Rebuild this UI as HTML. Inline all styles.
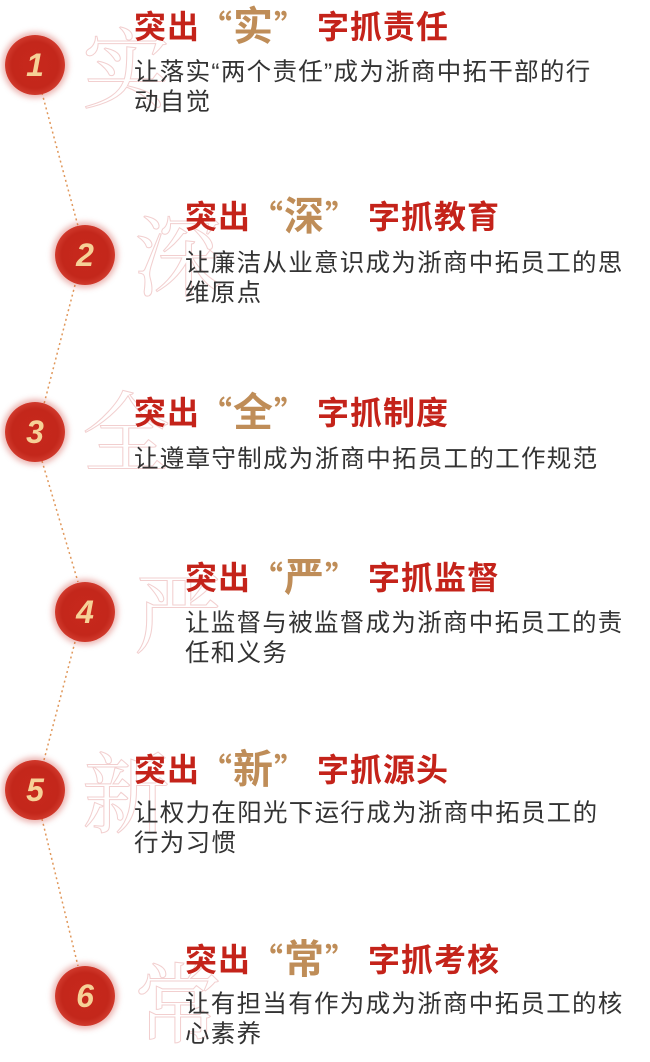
<!DOCTYPE html>
<html><head><meta charset="utf-8"><style>
body{margin:0;width:650px;height:1054px;background:#fff;position:relative;overflow:hidden;font-family:"Liberation Sans","Noto Sans CJK SC",sans-serif;}
.c{position:absolute;width:60px;height:60px;border-radius:50%;background:radial-gradient(circle,#c8281c 0,#c3271b 55%,#d0392c 70%,rgba(220,80,70,0) 100%);box-shadow:0 0 6px 3px rgba(200,50,40,.35);color:#f6d197;font:italic bold 32px "Liberation Sans",sans-serif;text-align:center;line-height:60px;}
.g{position:absolute;font-family:"Noto Serif CJK SC","Noto Sans CJK SC",serif;font-size:88px;line-height:1;color:transparent;-webkit-text-stroke:1px #f2cfcf;}
.t{position:absolute;font-weight:bold;font-size:32px;color:#c4231a;white-space:nowrap;line-height:40px;font-family:"Noto Sans CJK SC",sans-serif;letter-spacing:1px;}
.t .q{color:#bf8d58;}
.t .q2{color:#bf8d58;margin-right:10px;}
.t .k{color:#bf8d58;font-size:40px;vertical-align:-2px;}
.b{position:absolute;font-size:24.5px;letter-spacing:1.3px;color:#333;line-height:30px;white-space:nowrap;font-family:"Liberation Sans","Noto Sans CJK SC",sans-serif;}
svg{position:absolute;left:0;top:0;}
</style></head><body>
<svg width="650" height="1054"><g stroke="#e0975a" stroke-width="1.5" stroke-dasharray="2,3" fill="none">
<line x1="42" y1="93" x2="78" y2="226"/>
<line x1="75" y1="285" x2="44" y2="404"/>
<line x1="42" y1="461" x2="78" y2="582"/>
<line x1="75" y1="642" x2="44" y2="760"/>
<line x1="42" y1="819" x2="78" y2="966"/>
</g></svg>

<div class="g" style="left:82px;top:20px">实</div>
<div class="g" style="left:134px;top:208px">深</div>
<div class="g" style="left:82px;top:384px">全</div>
<div class="g" style="left:134px;top:565px">严</div>
<div class="g" style="left:82px;top:745px">新</div>
<div class="g" style="left:134px;top:955px">常</div>

<div class="c" style="left:5px;top:35px">1</div>
<div class="c" style="left:55px;top:225px">2</div>
<div class="c" style="left:5px;top:402px">3</div>
<div class="c" style="left:55px;top:582px">4</div>
<div class="c" style="left:5px;top:760px">5</div>
<div class="c" style="left:55px;top:966px">6</div>

<div class="t" style="left:134px;top:3px">突出<span class="q">“</span><span class="k">实</span><span class="q2">”</span>字抓责任</div>
<div class="b" style="left:134px;top:58px">让落实“两个责任”成为浙商中拓干部的行<br>动自觉</div>

<div class="t" style="left:185px;top:193px">突出<span class="q">“</span><span class="k">深</span><span class="q2">”</span>字抓教育</div>
<div class="b" style="left:185px;top:249px">让廉洁从业意识成为浙商中拓员工的思<br>维原点</div>

<div class="t" style="left:134px;top:389px">突出<span class="q">“</span><span class="k">全</span><span class="q2">”</span>字抓制度</div>
<div class="b" style="left:134px;top:445px">让遵章守制成为浙商中拓员工的工作规范</div>

<div class="t" style="left:185px;top:554px">突出<span class="q">“</span><span class="k">严</span><span class="q2">”</span>字抓监督</div>
<div class="b" style="left:185px;top:609px">让监督与被监督成为浙商中拓员工的责<br>任和义务</div>

<div class="t" style="left:134px;top:746px">突出<span class="q">“</span><span class="k">新</span><span class="q2">”</span>字抓源头</div>
<div class="b" style="left:134px;top:799px">让权力在阳光下运行成为浙商中拓员工的<br>行为习惯</div>

<div class="t" style="left:185px;top:936px">突出<span class="q">“</span><span class="k">常</span><span class="q2">”</span>字抓考核</div>
<div class="b" style="left:185px;top:990px">让有担当有作为成为浙商中拓员工的核<br>心素养</div>
</body></html>
